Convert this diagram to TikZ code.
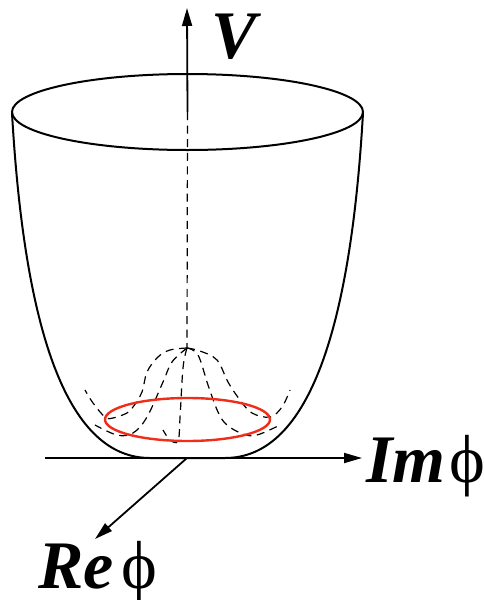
\documentclass[tikz,border=0pt]{standalone}
\usepackage{fontspec}
\setmainfont{Liberation Serif}
\usepackage{tikz}
\usetikzlibrary{arrows.meta}
\definecolor{ringred}{RGB}{240,45,25}
\newcommand{\fieldphi}{{\upshape\mdseries\symbol{"03D5}}}

\begin{document}
\begin{tikzpicture}[
    x=0.5pt, y=-0.5pt,
    bowl/.style={line width=1pt},
    hat/.style={line width=0.6pt, dash pattern=on 4pt off 2.8pt},
    axisline/.style={-{Triangle[length=9pt,width=5pt]}, line width=0.9pt},
    lbl/.style={font=\fontsize{34}{34}\selectfont\bfseries\itshape, inner sep=0pt},
    ring/.style={ringred, line width=1.2pt},
  ]
  \useasboundingbox (0,0) rectangle (483,600);

  % origin, top of the hat, centre of the rim
  \coordinate (O) at (187,458);
  \coordinate (peak) at (187,348);
  \coordinate (rimc) at (187.5,112);
  \coordinate (vtop) at (187,8);
  \coordinate (imstart) at (45,458);
  \coordinate (imend) at (362,458);
  \coordinate (reend) at (95,539);

  % the bowl
  \draw[bowl] (rimc) ellipse [x radius=87.75pt, y radius=19pt];
  \draw[bowl] (12,113) .. controls (25,340) and (70,458) .. (150,458)
    -- (225,458) .. controls (305,458) and (350,340) .. (363,113);

  % axes
  \draw[axisline] (rimc) -- (vtop);
  \draw[hat] (rimc) -- (peak);
  \draw[axisline] (imstart) -- (imend);
  \draw[axisline] (O) -- (reend);

  % mexican hat
  \draw[hat] plot[smooth, tension=0.6] coordinates {(peak) (170,350) (158,357)
    (147,372) (142,392) (133,407) (127,413) (113,418) (105,417) (93,403) (85,390)};
  \draw[hat] plot[smooth, tension=0.6] coordinates {(peak) (172,362) (163,382)
    (147,417) (133,433) (117,435) (95,425)};
  \draw[hat] plot[smooth, tension=0.6] coordinates {(peak) (183,368) (180,418)
    (178,441) (170,440) (163,430)};
  \draw[hat] plot[smooth, tension=0.6] coordinates {(peak) (200,351) (217,360)
    (228,382) (240,400) (252,413) (270,417) (282,407) (290,390)};
  \draw[hat] plot[smooth, tension=0.6] coordinates {(peak) (198,355) (208,385)
    (218,412) (227,425) (243,434) (257,435) (280,425)};

  % vacuum ring
  \draw[ring] (187.5,419.5) ellipse [x radius=41.25pt, y radius=10.75pt];

  % labels
  \node[lbl, anchor=base west] (vlab) at (211,58) {V};
  \node[lbl, anchor=base west] (imlab) at (366,482) {Im\hspace{2pt}\fieldphi};
  \node[lbl, anchor=base west] (relab) at (38,588) {Re\hspace{4pt}\fieldphi};
\end{tikzpicture}
\end{document}
